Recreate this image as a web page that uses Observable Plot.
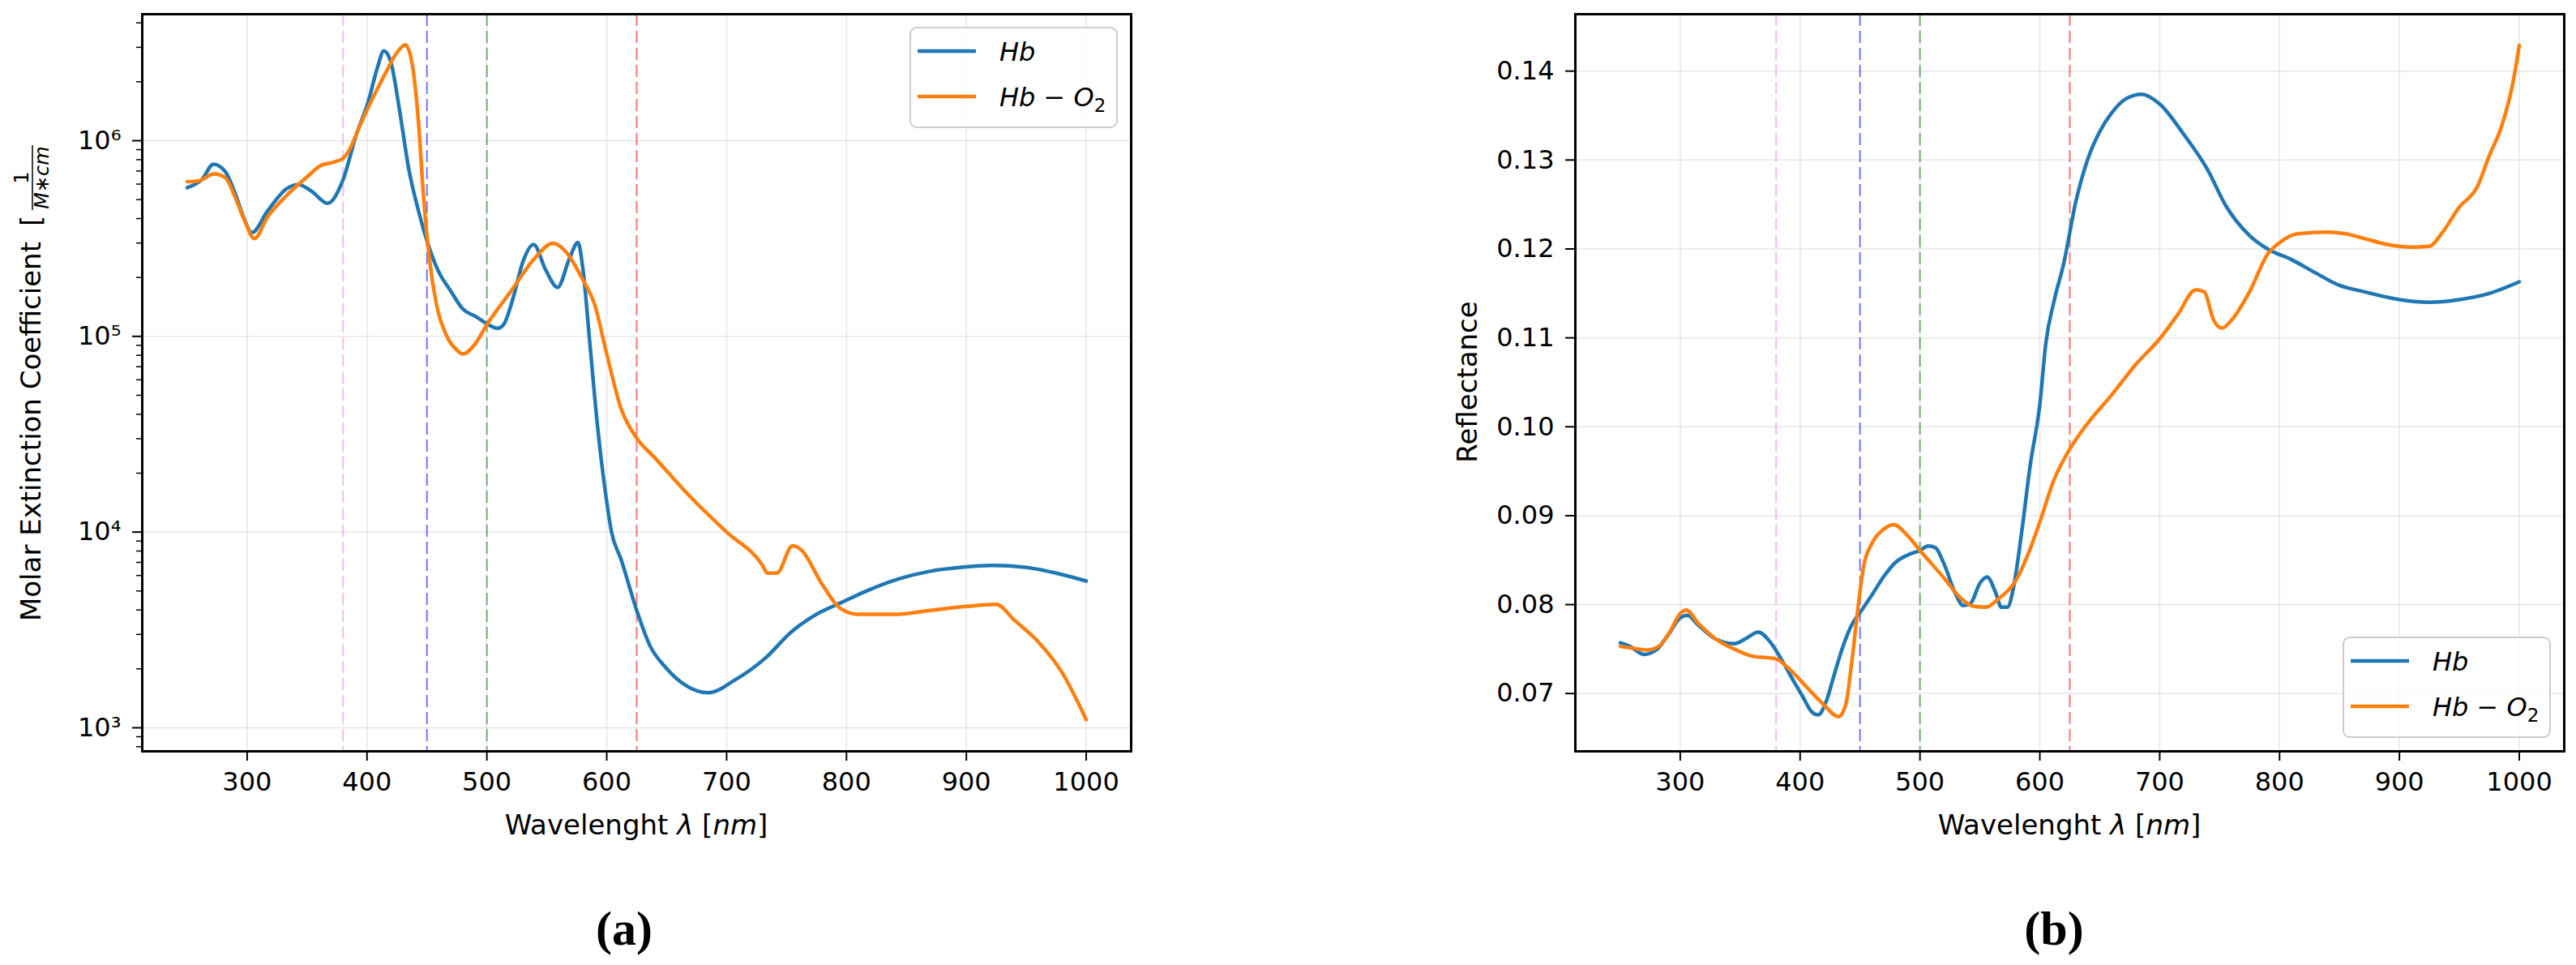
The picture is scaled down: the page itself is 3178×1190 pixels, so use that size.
<!DOCTYPE html>
<html>
<head>
<meta charset="utf-8">
<style>
  body { margin: 0; background: #fff; width: 3178px; height: 1190px; position: relative; overflow: hidden; font-family: "DejaVu Sans", sans-serif; }
  .panel { position: absolute; top: 0; }
  .cap { position: absolute; top: 1115px; line-height: 60px; font-family: "Liberation Serif", serif; font-weight: bold; font-size: 60px; transform: translateX(-50%); color: #000; }
</style>
<script src="https://cdn.jsdelivr.net/npm/d3@7"></script>
<script src="https://cdn.jsdelivr.net/npm/@observablehq/plot@0.6"></script>
</head>
<body>
<div id="pa" class="panel" style="left:0px"></div>
<div id="pb" class="panel" style="left:1589px"></div>
<div class="cap" style="left:770px">(a)</div>
<div class="cap" style="left:2534px">(b)</div>
<script>
// ---------- Data ----------
const wlTicks = [300, 400, 500, 600, 700, 800, 900, 1000];
const refLinesWl = [380, 450, 500, 625];
const refLinesColor = ["violet", "blue", "green", "red"];
const seriesNames = ["Hb", "Hb-O2"];
const seriesColors = ["#1f77b4", "#ff7f0e"];

// (a) Molar extinction coefficient
const extTicks = [1e3, 1e4, 1e5, 1e6];
const hbExtWl  = [250,262,272,282,290,297,304,317,333,343,354,367,380,391,401,409,414,420,427,435,443,451,459,470,480,491,501,509,514,522,530,539,549,559,569,576,580,586,592,599,604,612,625,636,649,665,685,706,733,754,775,796,817,843,870,896,922,949,975,1000];
const hbExtVal = [575000,631000,759000,692000,537000,407000,339000,437000,569000,596000,550000,479000,631000,1070000,1580000,2400000,2880000,2510000,1450000,708000,437000,295000,219000,170000,138000,126000,115000,110000,115000,158000,240000,295000,219000,178000,251000,302000,224000,91000,36300,15800,10000,7240,3980,2630,2040,1660,1510,1740,2290,3090,3800,4370,5010,5750,6310,6610,6760,6610,6170,5620];
const hbo2ExtWl  = [250,260,272,282,290,298,306,317,333,350,362,372,380,385,395,405,415,425,432,438,443,447,452,458,466,475,480,490,500,520,540,555,565,580,590,600,612,625,640,670,700,730,734,742,755,762,780,795,810,840,870,900,925,940,960,980,1000];
const hbo2ExtVal = [617000,624000,676000,646000,513000,389000,316000,407000,525000,653000,750000,776000,813000,891000,1230000,1660000,2190000,2820000,3090000,2400000,1230000,537000,251000,145000,102000,85100,81300,91200,115000,170000,251000,299000,275000,195000,145000,81300,42700,30200,24000,15100,10000,6760,6170,6170,8510,8130,5370,4070,3800,3800,3980,4170,4270,3550,2750,1910,1100];

// (b) Reflectance
const reflTicks = [0.07, 0.08, 0.09, 0.10, 0.11, 0.12, 0.13, 0.14];
const hbReflWl  = [250,258,270,280,290,300,306,315,330,345,355,365,375,385,395,402,410,415,422,428,435,443,451,460,470,480,490,500,507,513,520,530,536,542,550,556,563,568,573,578,585,592,600,605,612,620,630,640,650,660,672,685,700,720,740,755,775,790,810,830,850,870,900,925,950,975,1000];
const hbReflVal = [0.0757,0.0753,0.0744,0.0749,0.0766,0.0785,0.0788,0.0777,0.0761,0.0756,0.0762,0.0769,0.0758,0.0737,0.0713,0.0697,0.0679,0.0676,0.0692,0.0719,0.0750,0.0777,0.0793,0.0811,0.0832,0.0848,0.0856,0.0861,0.0866,0.0864,0.0846,0.0811,0.0799,0.0801,0.0824,0.0831,0.0814,0.0797,0.0797,0.0819,0.0883,0.0957,0.1025,0.1094,0.1142,0.1184,0.1253,0.1301,0.1332,0.1353,0.1369,0.1374,0.1363,0.1329,0.1289,0.1249,0.1215,0.1200,0.1188,0.1173,0.1159,0.1152,0.1143,0.1140,0.1143,0.1150,0.1163];
const hbo2ReflWl  = [250,260,272,282,292,300,305,315,330,345,360,380,390,405,420,432,438,443,448,453,460,470,478,490,500,520,535,545,555,565,580,590,600,612,625,640,660,680,700,715,730,737,745,752,760,775,790,800,815,840,855,870,890,910,925,935,950,965,975,985,995,1000];
const hbo2ReflVal = [0.0753,0.0751,0.0749,0.0753,0.0771,0.0790,0.0794,0.0779,0.0761,0.0750,0.0742,0.0739,0.0729,0.0708,0.0687,0.0674,0.0687,0.0734,0.0793,0.0843,0.0869,0.0885,0.0890,0.0877,0.0861,0.0830,0.0806,0.0798,0.0797,0.0806,0.0827,0.0856,0.0893,0.0941,0.0975,0.1004,0.1036,0.1070,0.1099,0.1126,0.1154,0.1152,0.1120,0.1111,0.1120,0.1152,0.1194,0.1207,0.1217,0.1219,0.1217,0.1212,0.1205,0.1202,0.1203,0.1217,0.1247,0.1270,0.1305,0.1337,0.1389,0.1429];

// ---------- Helpers ----------
const zip = (xs, ys) => xs.map((x, i) => ({wl: x, v: ys[i]}));
const SUP = {"0":"⁰","1":"¹","2":"²","3":"³","4":"⁴","5":"⁵","6":"⁶","7":"⁷","8":"⁸","9":"⁹","-":"⁻"};
const logFmt = d => "10" + String(Math.round(Math.log10(d))).split("").map(c => SUP[c]).join("");

const W = 1589, H = 1060;
const FONT = 32;
const gridStyle = {stroke: "#b0b0b0", strokeOpacity: 0.3, strokeWidth: 1.5};

function refMarks() {
  return refLinesWl.map((wl, i) =>
    Plot.ruleX([wl], {stroke: refLinesColor[i], strokeOpacity: 0.55, strokeWidth: 2, strokeDasharray: "15,6"}));
}

function lineMarks(a, b) {
  return [
    Plot.line(a, {x: "wl", y: "v", stroke: seriesColors[0], strokeWidth: 4.5, curve: "monotone-x"}),
    Plot.line(b, {x: "wl", y: "v", stroke: seriesColors[1], strokeWidth: 4.5, curve: "monotone-x"})
  ];
}

function xAxisMarks() {
  return [
    Plot.gridX(wlTicks, gridStyle),
    Plot.axisX(wlTicks, {tickSize: 12, tickPadding: 14, strokeWidth: 2, label: null, fontSize: FONT, tickFormat: d => String(d)})
  ];
}

// ---------- Panel (a) ----------
const minorExt = [];
for (let e = 2; e <= 6; e++) for (let k = 2; k <= 9; k++) minorExt.push(k * Math.pow(10, e));
const plotA = Plot.plot({
  width: W, height: H,
  marginLeft: 175, marginRight: W - 1395, marginTop: 17, marginBottom: H - 926,
  style: {fontFamily: "DejaVu Sans", fontSize: FONT + "px", color: "#000", background: "#fff", overflow: "visible"},
  x: {domain: [212.5, 1037.5]},
  y: {type: "log", domain: [758, 4.43e6]},
  marks: [
    ...xAxisMarks(),
    Plot.gridY(extTicks, gridStyle),
    ...refMarks(),
    ...lineMarks(zip(hbExtWl, hbExtVal), zip(hbo2ExtWl, hbo2ExtVal)),
    Plot.axisY(extTicks, {tickSize: 12, tickPadding: 14, strokeWidth: 2, label: null, fontSize: FONT, tickFormat: logFmt}),
    Plot.axisY(minorExt.filter(v => v > 758 && v < 4.43e6), {tickSize: 7, strokeWidth: 1.5, label: null, tickFormat: () => ""}),
    Plot.frame({stroke: "#000", strokeWidth: 3})
  ]
});
document.getElementById("pa").appendChild(plotA);

// ---------- Panel (b) ----------
const plotB = Plot.plot({
  width: W, height: H,
  marginLeft: 1943 - 1589, marginRight: 3178 - 3163, marginTop: 17, marginBottom: H - 926,
  style: {fontFamily: "DejaVu Sans", fontSize: FONT + "px", color: "#000", background: "#fff", overflow: "visible"},
  x: {domain: [212.5, 1037.5]},
  y: {domain: [0.0635, 0.1464]},
  marks: [
    ...xAxisMarks(),
    Plot.gridY(reflTicks, gridStyle),
    ...refMarks(),
    ...lineMarks(zip(hbReflWl, hbReflVal), zip(hbo2ReflWl, hbo2ReflVal)),
    Plot.axisY(reflTicks, {tickSize: 12, tickPadding: 14, strokeWidth: 2, label: null, fontSize: FONT, tickFormat: d3.format(".2f")}),
    Plot.frame({stroke: "#000", strokeWidth: 3})
  ]
});
document.getElementById("pb").appendChild(plotB);

// ---------- Annotations (labels, legends) ----------
function xLabel(svg, cx) {
  const t = svg.append("text").attr("x", cx).attr("y", 1029).attr("text-anchor", "middle")
    .attr("font-size", 34).attr("font-family", "DejaVu Sans").attr("fill", "#000");
  t.append("tspan").text("Wavelenght ");
  t.append("tspan").attr("font-style", "italic").text("λ");
  t.append("tspan").text(" [");
  t.append("tspan").attr("font-style", "italic").text("nm");
  t.append("tspan").text("]");
}

function legend(svg, x, y) {
  const g = svg.append("g").attr("font-family", "DejaVu Sans").attr("fill", "#000").attr("text-anchor", "start");
  g.append("rect").attr("x", x).attr("y", y).attr("width", 255).attr("height", 123).attr("rx", 8)
    .attr("fill", "#fff").attr("fill-opacity", 0.8).attr("stroke", "#cccccc").attr("stroke-width", 2);
  [0, 1].forEach(i => {
    const ly = y + 29 + i * 56;
    g.append("line").attr("x1", x + 9).attr("x2", x + 81).attr("y1", ly).attr("y2", ly)
      .attr("stroke", seriesColors[i]).attr("stroke-width", 4.5);
    const t = g.append("text").attr("x", x + 110).attr("y", ly + 12).attr("font-size", 32).attr("text-anchor", "start");
    if (i === 0) {
      t.append("tspan").attr("font-style", "italic").text("Hb");
    } else {
      t.append("tspan").attr("font-style", "italic").text("Hb");
      t.append("tspan").text(" − ");
      t.append("tspan").attr("font-style", "italic").text("O");
      t.append("tspan").attr("font-size", 23).attr("dy", 7).text("2");
    }
  });
}

const svgA = d3.select(plotA.tagName.toLowerCase() === "svg" ? plotA : plotA.querySelector("svg"));
const svgB = d3.select(plotB.tagName.toLowerCase() === "svg" ? plotB : plotB.querySelector("svg"));

xLabel(svgA, (175 + 1395) / 2);
xLabel(svgB, (1943 + 3163) / 2 - 1589);

// y label (a) with fraction
{
  const g = svgA.append("g").attr("transform", "translate(50,471) rotate(-90)")
    .attr("font-family", "DejaVu Sans").attr("fill", "#000");
  g.append("text").attr("x", 173).attr("y", 0).attr("text-anchor", "end").attr("font-size", 34).text("Molar Extinction Coefficient");
  g.append("text").attr("x", 192).attr("y", 0).attr("text-anchor", "start").attr("font-size", 34).text("[");
  g.append("text").attr("x", 252).attr("y", -15).attr("text-anchor", "middle").attr("font-size", 24).text("1");
  g.append("line").attr("x1", 212).attr("x2", 292).attr("y1", -10).attr("y2", -10).attr("stroke", "#000").attr("stroke-width", 1.5);
  g.append("text").attr("x", 252).attr("y", 10).attr("text-anchor", "middle").attr("font-size", 24).attr("font-style", "italic").text("M∗cm");
}
// y label (b)
svgB.append("text").attr("transform", "translate(233,471) rotate(-90)").attr("text-anchor", "middle")
  .attr("font-family", "DejaVu Sans").attr("font-size", 34).attr("fill", "#000").text("Reflectance");

legend(svgA, 1123, 34);
legend(svgB, 2891 - 1589, 786);
</script>
</body>
</html>
